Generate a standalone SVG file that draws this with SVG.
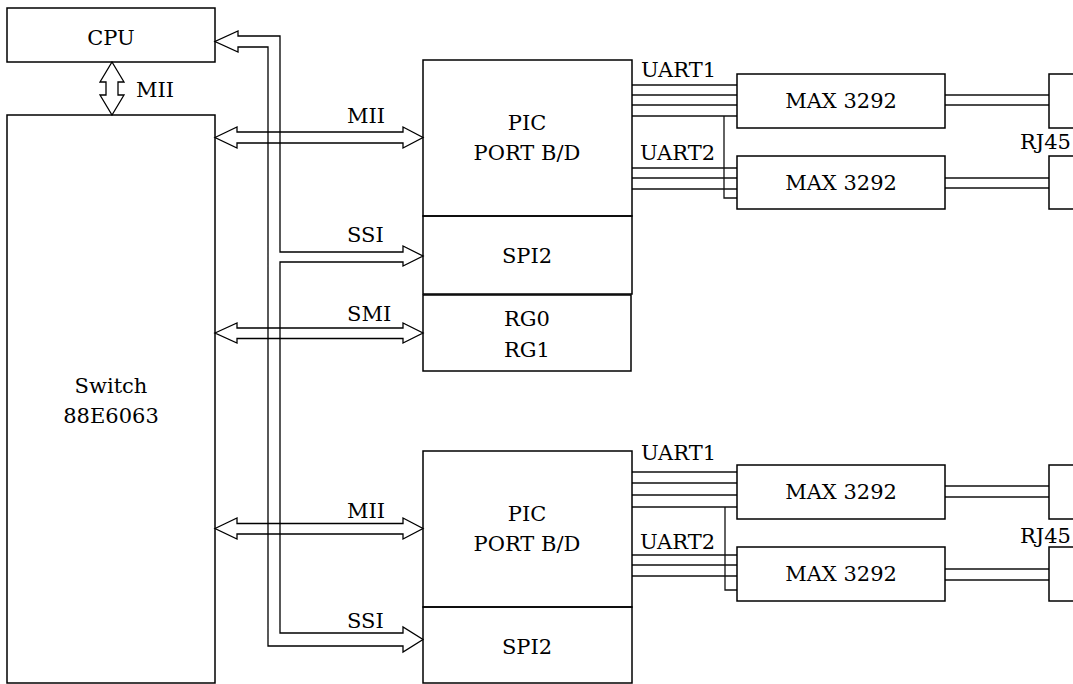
<svg xmlns="http://www.w3.org/2000/svg" width="1073" height="684" viewBox="0 0 1073 684">
<style>
text{font-family:"DejaVu Serif","Liberation Serif",serif;font-size:21px;fill:#000}
.c{text-anchor:middle}
.box{fill:none;stroke:#000;stroke-width:1.5}
.ln{fill:none;stroke:#111;stroke-width:1.3}
.ar{fill:none;stroke:#000;stroke-width:1.3;stroke-linejoin:miter}
</style>
<rect width="1073" height="684" fill="#fff"/>
<g id="connectors">
<path class="ar" d="M112,62 L124,82 H118 V95 H124 L112,115 L100,95 H106 V82 H100 Z"/>
<path class="ar" d="M238,47 H268 V646 H403 V652 L423,639.5 L403,627 V633 H280 V262 H403 V266 L423,256 L403,246 V252 H280 V36 H238 V31 L215,41.5 L238,52 Z"/>
<path class="ar" d="M215,137.5 L237,127 V132 H403 V127 L423,137.5 L403,148 V143 H237 V148 Z"/>
<path class="ar" d="M215,333 L237,323 V328 H403 V323 L423,333 L403,343 V338.5 H237 V343 Z"/>
<path class="ar" d="M215,528.5 L237,518 V523.5 H403 V518 L423,528.5 L403,539 V534 H237 V539 Z"/>
<path class="ln" d="M632,85 H737 M632,95 H737 M632,105 H737 M632,116 H737 M724,116 V198 H737 M632,168 H737 M632,178 H737 M632,189 H737"/>
<path class="ln" d="M632,472 H737 M632,483 H737 M632,495 H737 M632,507 H737 M725,507 V590 H737 M632,555 H737 M632,565 H737 M632,576 H737"/>
<path class="ln" d="M945,95 H1049 M945,105 H1049 M945,178 H1049 M945,188 H1049 M945,486 H1049 M945,497 H1049 M945,569 H1049 M945,580 H1049"/>
<text x="136" y="97">MII</text>
<text x="347" y="123">MII</text>
<text x="347" y="242">SSI</text>
<text x="347" y="321">SMI</text>
<text x="347" y="518">MII</text>
<text x="347" y="628">SSI</text>
<text x="641" y="77">UART1</text>
<text x="640" y="160">UART2</text>
<text x="641" y="460">UART1</text>
<text x="640" y="549">UART2</text>
</g>
<g id="cpu"><rect class="box" x="7" y="8" width="208" height="54"/><text class="c" x="111" y="45">CPU</text></g>
<g id="switch"><rect class="box" x="7" y="115" width="208" height="568"/><text class="c" x="111" y="393">Switch</text><text class="c" x="111" y="423">88E6063</text></g>
<g id="pic1"><rect class="box" x="423" y="60" width="209" height="156"/><text class="c" x="527" y="130">PIC</text><text class="c" x="527" y="160">PORT B/D</text></g>
<g id="spi2a"><rect class="box" x="423" y="216" width="209" height="78"/><text class="c" x="527" y="263">SPI2</text></g>
<g id="rg"><rect class="box" x="423" y="295" width="208" height="76"/><text class="c" x="527" y="326">RG0</text><text class="c" x="527" y="357">RG1</text></g>
<g id="pic2"><rect class="box" x="423" y="451" width="209" height="156"/><text class="c" x="527" y="521">PIC</text><text class="c" x="527" y="551">PORT B/D</text></g>
<g id="spi2b"><rect class="box" x="423" y="607" width="209" height="76"/><text class="c" x="527" y="654">SPI2</text></g>
<g id="max1"><rect class="box" x="737" y="74" width="208" height="54"/><text class="c" x="841" y="108">MAX 3292</text></g>
<g id="max2"><rect class="box" x="737" y="156" width="208" height="53"/><text class="c" x="841" y="190">MAX 3292</text></g>
<g id="max3"><rect class="box" x="737" y="465" width="208" height="54"/><text class="c" x="841" y="499">MAX 3292</text></g>
<g id="max4"><rect class="box" x="737" y="547" width="208" height="54"/><text class="c" x="841" y="581">MAX 3292</text></g>
<g id="rj1"><rect class="box" x="1049" y="74" width="40" height="54"/></g>
<g id="rj2"><rect class="box" x="1049" y="156" width="40" height="53"/><text x="1020" y="149">RJ45</text></g>
<g id="rj3"><rect class="box" x="1049" y="465" width="40" height="54"/></g>
<g id="rj4"><rect class="box" x="1049" y="547" width="40" height="54"/><text x="1020" y="543">RJ45</text></g>
</svg>
